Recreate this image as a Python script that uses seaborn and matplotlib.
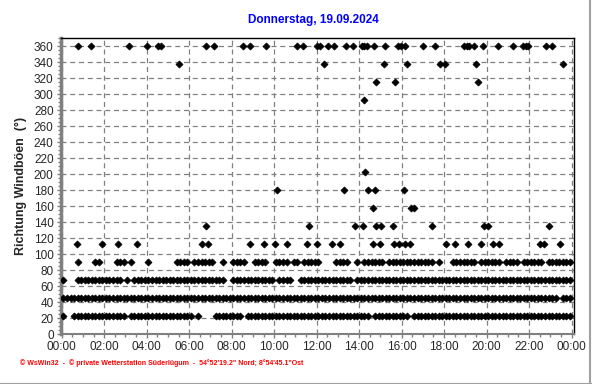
import matplotlib
matplotlib.use("Agg")
import numpy as np
import pandas as pd
import matplotlib.pyplot as plt
import seaborn as sns
from matplotlib.lines import Line2D
from matplotlib.ticker import MultipleLocator

# dense rows: one char per 10 minutes, one group per hour ('x' = gust reading)
row_22 = ("x..xxx xxxxxx xxxxxx .xxxxx xxxxxx xxxxxx x.x... .xxxxx xxx.xx xxxxxx xxxxxx xxxxxx "
          "xxxxxx xxxxxx xxx.xx xxxxxx xx.xxx xxxxxx xxxxxx xxxxxx xxxxxx xxxxxx xxxxxx xxxxxx")
row_45 = ("xxxxxx xxxxxx xxxxxx xxxxxx xxxxxx xxxxxx xxxxxx xxxxxx xxxxxx xxxxxx xxxxxx xxxxxx "
          "xxxxxx xxxxxx xxxxxx xxxxxx xxxxxx xxxxxx xxxxxx xxxxxx xxxxxx xxxxxx xxxxxx xx.xxx")
row_67 = ("x...xx xxxxxx xxxxx. x.xxxx xxxxxx xxxxxx xxxxxx xxxx.. xxxxxx xxxxxx .xxxx. .xxxxx "
          "xxxxxx xxxx.x xxxxxx xxxxxx xxxxxx xxxxxx xxxxxx xxxxxx xxxxxx xxxxxx xxxxxx xxxxxx")
row_90 = ("....x. ...xx. ...xxx .x.... x..... ..xxxx .xxxxx x..x.. xxxx.. xxxx.. xxxx.x x.xxxx "
          "x....x xxx..x .xxxxx x.xxxx xxxxxx xxx.x. ..xxxx xxx.xx xxxx.x xxx.xx xxxx.x xxxxxx")

# sparse rows: time of day in hours
t_112 = [0.71, 1.88, 2.67, 3.53, 6.59, 6.9, 8.88, 9.53, 10.04, 10.62, 11.53, 12.04,
         12.74, 13.1, 14.66, 14.98, 15.64, 15.89, 16.14, 16.39, 18.08, 18.51, 19.13,
         19.73, 20.31, 20.58, 22.51, 22.71, 23.45]
t_135 = [6.8, 11.65, 13.82, 14.19, 14.8, 15.03, 15.6, 17.44, 19.89, 20.07, 22.95]
t_157 = [14.66, 16.44, 16.56]
t_180 = [10.15, 13.3, 14.43, 14.76, 16.12]
t_202 = [14.29]
t_292 = [14.24]
t_315 = [14.8, 15.7, 19.6]
t_337 = [5.54, 12.36, 15.18, 16.24, 17.8, 18.04, 19.48, 23.6]
t_360 = [0.78, 1.38, 3.17, 4.03, 4.55, 4.67, 6.78, 7.18, 8.55, 8.88, 9.63, 11.09, 11.37,
         12.0, 12.16, 12.55, 12.81, 13.36, 13.72, 14.12, 14.24, 14.35, 14.71, 15.23, 15.84,
         15.97, 16.16, 17.02, 17.57, 18.93, 19.06, 19.18, 19.42, 19.84, 20.55, 21.25, 21.72,
         21.85, 21.96, 22.79, 23.09]

tick_labels = ["00:00", "02:00", "04:00", "06:00", "08:00", "10:00", "12:00",
               "14:00", "16:00", "18:00", "20:00", "22:00", "00:00"]

rows = []
for direction, s in [(22.5, row_22), (45, row_45), (67.5, row_67), (90, row_90)]:
    s = s.replace(" ", "")
    for i, c in enumerate(s):
        if c == "x":
            rows.append(((i + 0.5) / 6, direction))
for direction, ts in [(112.5, t_112), (135, t_135), (157.5, t_157), (180, t_180),
                      (202.5, t_202), (292.5, t_292), (315, t_315), (337.5, t_337),
                      (360, t_360)]:
    for t in ts:
        rows.append((t, direction))
df = pd.DataFrame(rows, columns=["hour", "dir"])

sns.set_style("white")
plt.rcParams['font.family'] = ['Liberation Sans', 'DejaVu Sans']

fig = plt.figure(figsize=(5.92, 3.84), dpi=100)
ax = fig.add_axes([60.6 / 592, 1 - 334.3 / 384, (573.7 - 60.6) / 592, (334.3 - 38.3) / 384])

sns.scatterplot(x="hour", y="dir", data=df, ax=ax, marker="D", s=13, color="black",
                edgecolor="black", linewidth=0.5, zorder=3)

ax.set_xlim(-0.05, 24.1)
ax.set_ylim(0, 370)
ax.set_xticks(range(0, 25, 2))
ax.set_xticklabels(tick_labels)
ax.set_yticks(range(0, 361, 20))
ax.xaxis.set_minor_locator(MultipleLocator(0.5))
ax.yaxis.set_minor_locator(MultipleLocator(5))
ax.grid(True, which="major", color="#808080", linestyle=(0, (4, 3)), linewidth=0.9)
ax.set_axisbelow(True)
ax.tick_params(which="major", direction="out", length=3, width=1, color="#808080",
               labelsize=8.5, pad=2, bottom=True, left=True)
ax.tick_params(which="minor", direction="out", length=2, width=1, color="#808080",
               bottom=True, left=True)
ax.set_xlabel("")
ax.set_ylabel("Richtung Windböen  (°)", fontsize=9, fontweight="bold", labelpad=5)

for side in ["top", "right"]:
    ax.spines[side].set_color("black")
    ax.spines[side].set_linewidth(1)
ax.spines["left"].set_color("#808080")
ax.spines["left"].set_linewidth(2.5)
ax.spines["bottom"].set_color("#808080")
ax.spines["bottom"].set_linewidth(1.5)

fig.text(313 / 592, 1 - 20 / 384, "Donnerstag, 19.09.2024", color="#0000ff",
         fontsize=8.5, fontweight="bold", ha="center", va="center")
fig.text(20 / 592, 1 - 363 / 384,
         "© WsWin32  -  © private Wetterstation Süderlügum  -  54°52'19.2\" Nord; 8°54'45.1\"Ost",
         color="#ff0000", fontsize=5, fontweight="bold", ha="left", va="center")

fig.add_artist(Line2D([0, 1], [0.5 / 384, 0.5 / 384], color="#a0a0a0", linewidth=1.5))
fig.add_artist(Line2D([1 - 2 / 592, 1 - 2 / 592], [0, 1], color="#a0a0a0", linewidth=1.5))

fig.savefig("out.png", dpi=100)
